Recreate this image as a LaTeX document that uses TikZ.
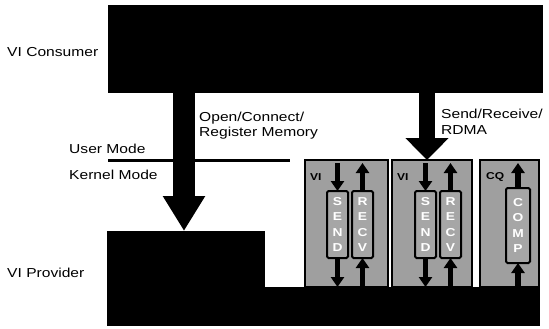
\documentclass[tikz,border=0pt]{standalone}
\usepackage{fontspec}
\setmainfont{Liberation Sans}[FakeStretch=1.2]
\usetikzlibrary{arrows.meta,positioning}

\begin{document}
\begin{tikzpicture}[
    x=1pt, y=-1pt,
    font=\fontsize{13}{15}\selectfont,
    blk/.style={rectangle, fill=black, inner sep=0pt, outer sep=0pt, anchor=north west},
    vibox/.style={rectangle, draw=black, line width=1.6pt, fill=gray!75, inner sep=0pt, outer sep=0pt, anchor=north west, minimum height=127pt},
    queue/.style={rectangle, draw=black, line width=2pt, fill=gray!70, rounded corners=1.5pt, inner sep=0pt, outer sep=0pt,
        anchor=north west, minimum width=21pt, minimum height=67pt, align=center, text=white,
        font=\bfseries\fontsize{11.5}{15.5}\selectfont},
    lbl/.style={anchor=west, inner sep=0pt, align=left},
    tag/.style={anchor=west, inner sep=0pt, font=\bfseries\fontsize{10}{10}\selectfont},
    bigarrow/.style={-{Triangle[length=35pt, width=40pt]}, line width=22pt},
    sendarrow/.style={-{Triangle[length=22pt, width=42pt]}, line width=16pt},
    small/.style={-{Triangle[length=10pt, width=13pt]}, line width=5.5pt}
]
    \useasboundingbox (0,0) rectangle (549,329);

    \node[blk, minimum width=435pt, minimum height=88pt] (consumer) at (108,5) {};
    \node[blk, minimum width=158pt, minimum height=95pt] (provtop) at (107,231) {};
    \node[blk, minimum width=433pt, minimum height=39pt] (provbase) at (107,287) {};

    \node[vibox, minimum width=83pt] (vi1) at (305,160) {};
    \node[vibox, minimum width=80pt] (vi2) at (392,160) {};
    \node[vibox, minimum width=59pt] (cq) at (480,160) {};

    \node[queue] (send1) at (327,191) {S\\E\\N\\D};
    \node[queue] (recv1) at (352,191) {R\\E\\C\\V};
    \node[queue] (send2) at (415,191) {S\\E\\N\\D};
    \node[queue] (recv2) at (440,191) {R\\E\\C\\V};
    \node[queue, minimum width=24pt, minimum height=75pt] (comp) at (506,188) {C\\O\\M\\P};

    \node[tag] (vitag1) at (310,177) {VI};
    \node[tag] (vitag2) at (397,177) {VI};
    \node[tag] (cqtag) at (486,177) {CQ};

    \node[lbl] (consumerlbl) at (7,52) {VI Consumer};
    \node[lbl] (providerlbl) at (7,273) {VI Provider};
    \node[lbl] (userlbl) at (69,149) {User Mode};
    \node[lbl] (kernellbl) at (69,175) {Kernel Mode};
    \node[lbl] (openlbl) at (199,118) {Open/Connect/};
    \node[lbl] (reglbl) at (199,133) {Register Memory};
    \node[lbl] (sendlbl) at (441,114) {Send/Receive/};
    \node[lbl] (rdmalbl) at (441,130) {RDMA};

    \coordinate (modeL) at (108,160);
    \coordinate (modeR) at (290,160);
    \coordinate (openx) at (184,0);
    \coordinate (sendx) at (427,0);

    \draw[line width=3pt] (modeL) -- (modeR);
    \draw[bigarrow] (openx |- consumer.south) -- (openx |- provtop.north);
    \draw[sendarrow] (sendx |- consumer.south) -- (sendx |- vi2.north);

    \draw[small] ([yshift=-3pt]send1.north |- vi1.north) -- (send1.north);
    \draw[small] (recv1.north) -- ([yshift=-3pt]recv1.north |- vi1.north);
    \draw[small] (send1.south) -- (send1.south |- provbase.north);
    \draw[small] (recv1.south |- provbase.north) -- (recv1.south);

    \draw[small] ([yshift=-3pt]send2.north |- vi2.north) -- (send2.north);
    \draw[small] (recv2.north) -- ([yshift=-3pt]recv2.north |- vi2.north);
    \draw[small] (send2.south) -- (send2.south |- provbase.north);
    \draw[small] (recv2.south |- provbase.north) -- (recv2.south);

    \draw[small] (comp.north) -- ([yshift=-3pt]comp.north |- cq.north);
    \draw[small] (comp.south |- provbase.north) -- (comp.south);
\end{tikzpicture}
\end{document}
